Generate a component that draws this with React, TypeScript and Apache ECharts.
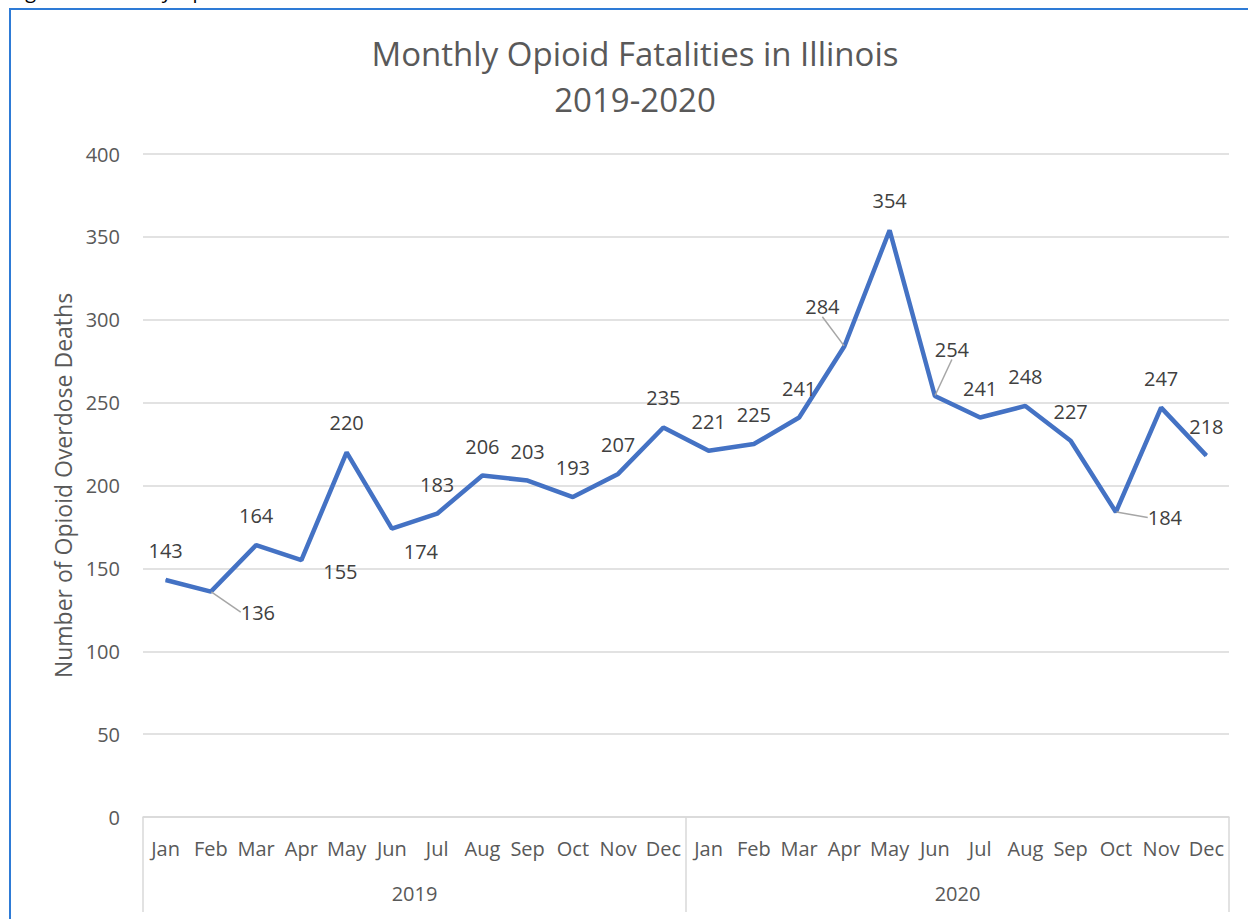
import React, { useEffect, useRef } from "react";
import * as echarts from "echarts";

const months = ["Jan", "Feb", "Mar", "Apr", "May", "Jun", "Jul", "Aug", "Sep", "Oct", "Nov", "Dec"];
const years = ["2019", "2020"];
const deaths2019 = [143, 136, 164, 155, 220, 174, 183, 206, 203, 193, 207, 235];
const deaths2020 = [221, 225, 241, 284, 354, 254, 241, 248, 227, 184, 247, 218];
const yTicks = { min: 0, max: 400, interval: 50 };
const titleLines = ["Monthly Opioid Fatalities in Illinois", "2019-2020"];
const yAxisName = "Number of Opioid Overdose Deaths";
const captionText = "Figure 1. Monthly Opioid Deaths in Illinois";

// label displacement (relative to default "top" position) and leader-line flag
const labelShift: Record<number, [number, number, boolean]> = {
  1: [47, 50, true],
  3: [39, 41, false],
  5: [29, 52, false],
  15: [-22, -10, true],
  17: [17, -17, true],
  21: [49, 35, true],
};

const FONT = "'Open Sans', 'Noto Sans', sans-serif";

export default function App() {
  const ref = useRef<HTMLDivElement>(null);
  useEffect(() => {
    if (!ref.current) return;
    const chart = echarts.init(ref.current, undefined, { renderer: "svg" });
    const categories = [...months, ...months];
    const values = [...deaths2019, ...deaths2020];
    const data = values.map((v, i) => {
      const s = labelShift[i];
      return s && s[2]
        ? { value: v, labelLine: { show: true, lineStyle: { color: "#a6a6a6", width: 1.5 } } }
        : { value: v };
    });
    chart.setOption({
      animation: false,
      textStyle: { fontFamily: FONT },
      grid: { left: 143, right: 19, top: 154, bottom: 102, containLabel: false },
      graphic: [
        {
          type: "rect",
          shape: { x: 10, y: 9, width: 1260, height: 960 },
          style: { fill: "none", stroke: "#2E7BD6", lineWidth: 2 },
          silent: true,
        },
        {
          type: "text",
          x: 10,
          y: -10,
          style: {
            text: captionText,
            fill: "#000000",
            font: `20px ${FONT}`,
            verticalAlign: "middle",
          },
        },
        {
          type: "text",
          x: 635,
          y: 53,
          style: {
            text: titleLines[0],
            fill: "#595959",
            font: `33px ${FONT}`,
            align: "center",
            verticalAlign: "middle",
          },
        },
        {
          type: "text",
          x: 635,
          y: 99,
          style: {
            text: titleLines[1],
            fill: "#595959",
            font: `33px ${FONT}`,
            align: "center",
            verticalAlign: "middle",
          },
        },
      ],
      xAxis: [
        {
          type: "category",
          data: categories,
          position: "bottom",
          offset: 0,
          boundaryGap: true,
          axisLine: { show: true, lineStyle: { color: "#d9d9d9", width: 1.5 } },
          axisTick: { show: false },
          axisLabel: { color: "#595959", fontSize: 20, margin: 21, interval: 0, fontFamily: FONT },
        },
        {
          type: "category",
          data: years,
          position: "bottom",
          offset: 0,
          boundaryGap: true,
          axisLine: { show: false },
          axisTick: { show: true, length: 95, lineStyle: { color: "#d9d9d9", width: 1.5 } },
          axisLabel: { color: "#595959", fontSize: 20, margin: 66, fontFamily: FONT },
          splitLine: { show: false },
        },
      ],
      yAxis: {
        type: "value",
        min: yTicks.min,
        max: yTicks.max,
        interval: yTicks.interval,
        name: yAxisName,
        nameLocation: "middle",
        nameGap: 69,
        nameTextStyle: { color: "#595959", fontSize: 23, fontFamily: FONT },
        axisLine: { show: false },
        axisTick: { show: false },
        axisLabel: { color: "#595959", fontSize: 20, margin: 23, fontFamily: FONT },
        splitLine: { lineStyle: { color: "#d9d9d9", width: 1.5 } },
      },
      series: [
        {
          type: "line",
          xAxisIndex: 0,
          data,
          symbol: "circle",
          symbolSize: 1,
          showSymbol: true,
          lineStyle: { color: "#4472C4", width: 4.5 },
          itemStyle: { color: "#4472C4" },
          label: {
            show: true,
            position: "top",
            distance: 19,
            color: "#404040",
            fontSize: 20,
            fontFamily: FONT,
          },
          labelLayout: (params: any) => {
            const s = labelShift[params.dataIndex];
            if (!s) return {};
            return { dx: s[0], dy: s[1] };
          },
        },
      ],
    });
    return () => chart.dispose();
  }, []);
  return (
    <div
      ref={ref}
      style={{ position: "absolute", left: 0, top: 0, width: 1248, height: 919, background: "#ffffff" }}
    />
  );
}
